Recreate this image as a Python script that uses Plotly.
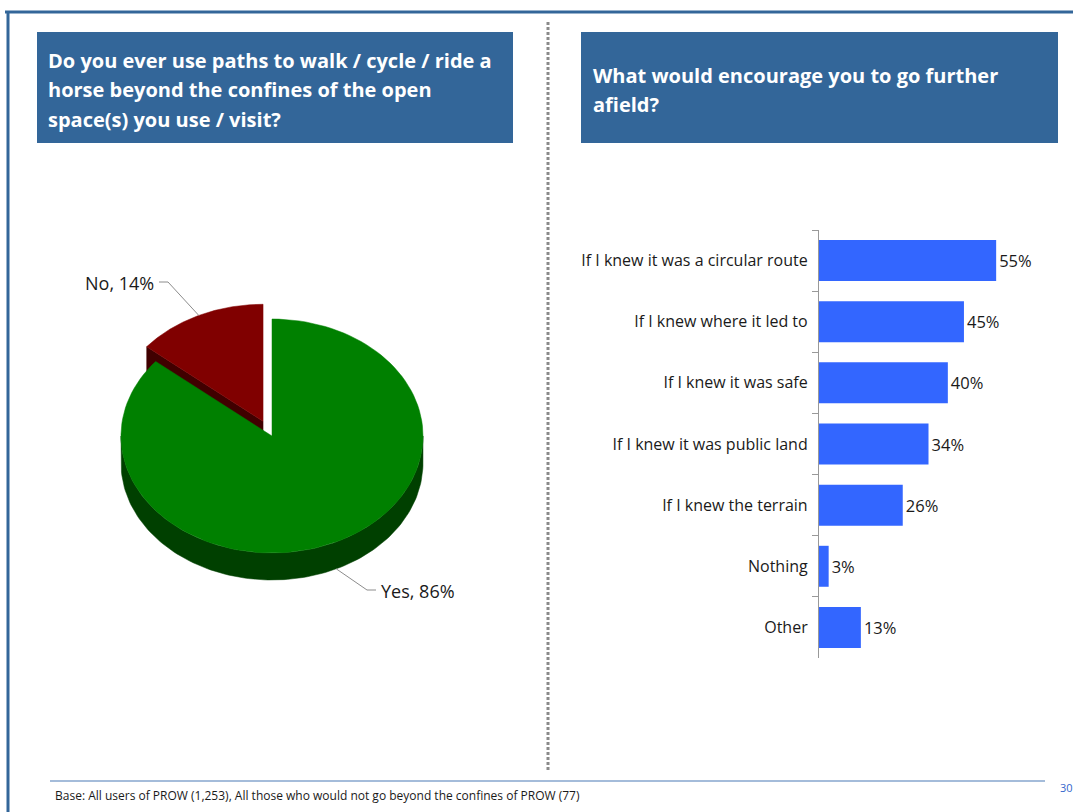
import math
import plotly.graph_objects as go

# ---- data ----
pie_labels = ["Yes", "No"]
pie_values = [86, 14]

bar_categories = [
    "If I knew it was a circular route",
    "If I knew where it led to",
    "If I knew it was safe",
    "If I knew it was public land",
    "If I knew the terrain",
    "Nothing",
    "Other",
]
bar_values = [0.55, 0.45, 0.40, 0.34, 0.26, 0.03, 0.13]

title_left = ["Do you ever use paths to walk / cycle / ride a",
              "horse beyond the confines of the open",
              "space(s) you use / visit?"]
title_right = ["What would encourage you to go further", "afield?"]
footnote = "Base: All users of PROW (1,253), All those who would not go beyond the confines of PROW (77)"
page_no = "30"

# ---- styling ----
W, H = 1073, 812
FRAME = "#336699"
BOX = "#336699"
BAR = "#3366FF"
FONT = "Open Sans, sans-serif"
top_colors = {"Yes": "#008000", "No": "#800000"}
side_colors = {"Yes": "#004000", "No": "#400000"}

# 3D pie geometry (page pixels)
CX, CY, RX, RY, DEPTH = 272, 436, 151, 117, 27
EXPLODE = {"Yes": 0, "No": 21}

fig = go.Figure()
annotations = []


def pt(theta_deg, dx=0.0, dy=0.0, drop=0.0):
    t = math.radians(theta_deg)
    return CX + RX * math.sin(t) + dx, CY - RY * math.cos(t) + dy + drop


def arc(a0, a1, dx, dy, drop=0.0, n=120):
    return [pt(a0 + (a1 - a0) * i / n, dx, dy, drop) for i in range(n + 1)]


def poly(points, color):
    xs = [p[0] for p in points] + [points[0][0]]
    ys = [p[1] for p in points] + [points[0][1]]
    fig.add_trace(go.Scatter(x=xs, y=ys, mode="lines", fill="toself",
                             fillcolor=color, line=dict(color=color, width=0.5),
                             hoverinfo="skip", showlegend=False,
                             xaxis="x", yaxis="y"))


total = sum(pie_values)
slices = []
start = 0.0
for lab, v in zip(pie_labels, pie_values):
    span = 360.0 * v / total
    mid = start + span / 2
    d = EXPLODE[lab]
    dx = d * math.sin(math.radians(mid))
    dy = -d * math.cos(math.radians(mid)) * RY / RX
    slices.append((lab, v, start, start + span, mid, dx, dy))
    start += span

# back (exploded) slice first, then the large front slice
for lab, v, a0, a1, mid, dx, dy in sorted(slices, key=lambda s: -EXPLODE[s[0]]):
    c_top, c_side = top_colors[lab], side_colors[lab]
    cx, cy = CX + dx, CY + dy
    # radial face on the start edge, visible when it faces the viewer
    if math.cos(math.radians(a0 - 90)) < 0 and a0 > 0:
        p = pt(a0, dx, dy)
        poly([(cx, cy), p, (p[0], p[1] + DEPTH), (cx, cy + DEPTH)], c_side)
    # outer wall on the front half
    lo, hi = max(a0, 90), min(a1, 270)
    if hi > lo:
        poly(arc(lo, hi, dx, dy) + arc(hi, lo, dx, dy, DEPTH), c_side)
    # top face
    poly([(cx, cy)] + arc(a0, a1, dx, dy), c_top)

# leader lines and labels for the pie
label_pos = {"Yes": (379, 591, "left"), "No": (156, 283, "right")}
for lab, v, a0, a1, mid, dx, dy in slices:
    sx, sy = pt(mid, dx, dy, DEPTH if math.cos(math.radians(mid)) < 0 else 0)
    tx, ty, side = label_pos[lab]
    k = -1 if side == "left" else 1
    elbow = (tx + k * 12, ty - 1)
    end = (tx + k * 3, ty - 1)
    fig.add_trace(go.Scatter(x=[sx, elbow[0], end[0]], y=[sy, elbow[1], end[1]],
                             mode="lines", line=dict(color="#8c8c8c", width=1),
                             hoverinfo="skip", showlegend=False,
                             xaxis="x", yaxis="y"))
    annotations.append(dict(x=tx, y=ty, xref="x", yref="y", text=f"{lab}, {v}%",
                            showarrow=False, xanchor=side, yanchor="middle",
                            font=dict(family=FONT, size=18, color="#1a1a1a")))

# ---- bar chart ----
fig.add_trace(go.Bar(
    x=bar_values, y=bar_categories, orientation="h",
    marker=dict(color=BAR, line=dict(width=0)),
    text=[f"{round(v * 100)}%" for v in bar_values],
    textposition="outside", cliponaxis=False,
    textfont=dict(family=FONT, size=16.5, color="#1a1a1a"),
    xaxis="x2", yaxis="y2", width=0.67, hoverinfo="skip", showlegend=False,
))

shapes = [
    # outer frame lines
    dict(type="line", xref="x", yref="y", x0=5, x1=W, y0=12, y1=12,
         line=dict(color=FRAME, width=3)),
    dict(type="line", xref="x", yref="y", x0=8, x1=8, y0=11, y1=H,
         line=dict(color=FRAME, width=3)),
    # title boxes
    dict(type="rect", xref="x", yref="y", x0=37, x1=513, y0=32, y1=143,
         fillcolor=BOX, line=dict(width=0), layer="below"),
    dict(type="rect", xref="x", yref="y", x0=581, x1=1058, y0=32, y1=143,
         fillcolor=BOX, line=dict(width=0), layer="below"),
    # dotted separator
    dict(type="line", xref="x", yref="y", x0=548, x1=548, y0=22, y1=770,
         line=dict(color="#8a8a8a", width=3, dash="3px,2px")),
    # footer rule
    dict(type="line", xref="x", yref="y", x0=50, x1=1045, y0=781, y1=781,
         line=dict(color="#4a7ab5", width=1.2)),
]

for i, line in enumerate(title_left):
    annotations.append(dict(x=46, y=60 + 29.5 * i, xref="x", yref="y", text=f"<b>{line}</b>",
                            showarrow=False, xanchor="left", yanchor="middle",
                            font=dict(family=FONT, size=20, color="white")))
for i, line in enumerate(title_right):
    annotations.append(dict(x=591, y=75 + 29.5 * i, xref="x", yref="y", text=f"<b>{line}</b>",
                            showarrow=False, xanchor="left", yanchor="middle",
                            font=dict(family=FONT, size=20, color="white")))
annotations.append(dict(x=53, y=795, xref="x", yref="y", text=footnote, showarrow=False,
                        xanchor="left", yanchor="middle",
                        font=dict(family=FONT, size=12, color="#1a1a1a")))
annotations.append(dict(x=1058, y=787, xref="x", yref="y", text=page_no, showarrow=False,
                        xanchor="left", yanchor="middle",
                        font=dict(family=FONT, size=11, color="#3366CC")))

fig.update_layout(
    width=W, height=H, margin=dict(l=0, r=0, t=0, b=0),
    paper_bgcolor="white", plot_bgcolor="rgba(0,0,0,0)",
    xaxis=dict(domain=[0, 1], range=[0, W], visible=False, fixedrange=True),
    yaxis=dict(domain=[0, 1], range=[H, 0], visible=False, fixedrange=True),
    xaxis2=dict(domain=[819 / W, 1058 / W], range=[0, 0.742], visible=False,
                anchor="y2"),
    yaxis2=dict(domain=[1 - 658 / H, 1 - 230 / H], range=[6.5, -0.5],
                anchor="x2", type="category", showline=True, linecolor="#999999",
                linewidth=1.2, ticks="outside", ticklen=6, tickcolor="#999999",
                tickson="boundaries", showgrid=False, ticklabelstandoff=7,
                tickfont=dict(family=FONT, size=16, color="#1a1a1a")),
    shapes=shapes, annotations=annotations,
    bargap=0.33, showlegend=False, font=dict(family=FONT),
)

fig.write_html("out.html")
